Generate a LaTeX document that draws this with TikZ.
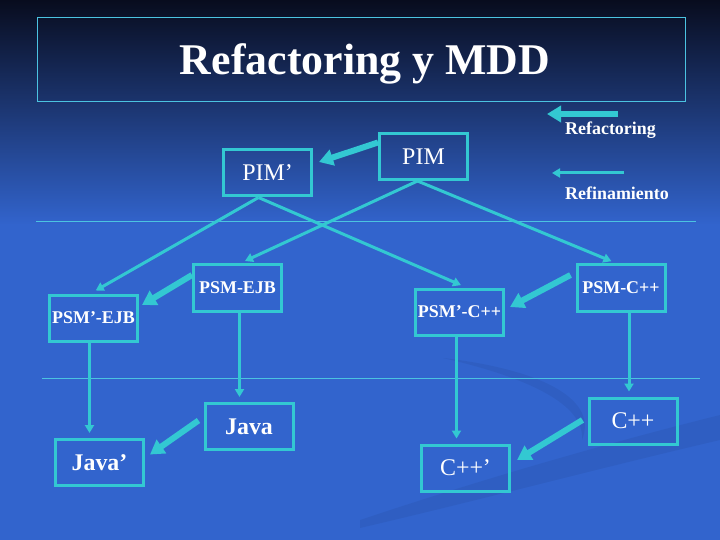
\documentclass[tikz,border=0pt]{standalone}
\usepackage{fontspec}
\setmainfont{Liberation Serif}
\usepackage{tikz}
\usetikzlibrary{arrows.meta, positioning, calc}
\definecolor{mycyan}{RGB}{51,200,210}
\definecolor{myframe}{RGB}{75,195,225}
\definecolor{bgtop}{RGB}{8,12,30}
\definecolor{bgmid}{RGB}{36,70,150}
\definecolor{bgblue}{RGB}{50,100,205}
\tikzset{
  stagebox/.style={rectangle, draw=mycyan, line width=3bp, inner sep=0pt,
    minimum width=88bp, minimum height=46bp, text=white},
  bigbox/.style={stagebox, font=\fontsize{24}{28}\selectfont},
  boldbox/.style={stagebox, font=\fontsize{24}{28}\selectfont\bfseries},
  psmbox/.style={stagebox, font=\fontsize{18}{22}\selectfont\bfseries},
  legend/.style={text=white, font=\fontsize{18}{22}\selectfont\bfseries, inner sep=0pt},
  refine/.style={-{Triangle[length=8bp,width=9bp]}, line width=3bp, color=mycyan},
  refac/.style={-{Triangle[length=14bp,width=16bp]}, line width=6bp, color=mycyan},
  sepline/.style={line width=1bp, color=myframe},
  titleframe/.style={line width=1bp, draw=myframe}
}

\begin{document}
\begin{tikzpicture}[x=1bp, y=-1bp]
  \useasboundingbox (0,0) rectangle (720,540);
  % background
  \shade[top color=bgtop, middle color=bgmid, bottom color=bgblue] (0,0) rectangle (720,225);
  \fill[bgblue] (0,224) rectangle (720,540);
  \fill[black, opacity=0.05] (360,520) .. controls (480,480) and (600,445) .. (720,415)
    -- (720,440) .. controls (600,468) and (480,500) .. (360,528) -- cycle;
  \fill[black, opacity=0.05] (443,358) .. controls (530,368) and (600,395) .. (582,440)
    .. controls (585,405) and (530,378) .. (443,358) -- cycle;

  \draw[sepline] (36,222) -- (696,222);
  \draw[sepline] (42,378) -- (700,378);

  \draw[titleframe] (37,18) rectangle (685,102);
  \node[anchor=base, text=white, font=\fontsize{44}{50}\selectfont\bfseries] (title) at (365,75) {Refactoring y MDD};

  % legend
  \coordinate (refa) at (618,114);
  \coordinate (refb) at (547,114);
  \coordinate (rfna) at (624,173);
  \coordinate (rfnb) at (552,173);
  \draw[refac] (refa) -- (refb);
  \draw[refine] (rfna) -- (rfnb);
  \node[legend, anchor=base] (reflbl) at (610.5,135) {Refactoring};
  \node[legend, anchor=base] (rfnlbl) at (617,200) {Refinamiento};

  % models
  \node[bigbox] (pim) at (423.5,156.5) {PIM};
  \node[bigbox] (pimp) at (267.5,173) {PIM’};
  \node[psmbox] (psmejb) at (237.5,288) {PSM-EJB};
  \node[psmbox] (psmpejb) at (93.5,318) {PSM’-EJB};
  \node[psmbox] (psmcpp) at (621,288) {PSM-C++};
  \node[psmbox] (psmpcpp) at (459.5,312) {PSM’-C++};
  \node[boldbox] (java) at (249,426.5) {Java};
  \node[boldbox] (javap) at (99.5,462.5) {Java’};
  \node[bigbox] (cpp) at (633,421) {C++};
  \node[bigbox] (cppp) at (465.5,468) {C++’};

  % refinamiento
  \draw[refine, shorten >=6bp] ([xshift=-9bp]pimp.south) -- ([xshift=-3bp]psmpejb.north);
  \draw[refine, shorten >=6bp] ([xshift=-9bp]pimp.south) -- ([xshift=7bp]psmpcpp.north);
  \draw[refine, shorten >=6bp] ([xshift=-6bp]pim.south) -- ([xshift=2bp]psmejb.north);
  \draw[refine, shorten >=6bp] ([xshift=-6bp]pim.south) -- ([xshift=-4bp]psmcpp.north);
  \draw[refine, shorten >=5bp] ([xshift=-4bp]psmpejb.south) -- ([xshift=-4bp]psmpejb.south |- javap.north);
  \draw[refine, shorten >=5bp] ([xshift=2bp]psmejb.south) -- ([xshift=2bp]psmejb.south |- java.north);
  \draw[refine, shorten >=5bp] ([xshift=-3bp]psmpcpp.south) -- ([xshift=-3bp]psmpcpp.south |- cppp.north);
  \draw[refine, shorten >=5bp] ([xshift=8bp]psmcpp.south) -- ([xshift=8bp]psmcpp.south |- cpp.north);

  % refactoring
  \draw[refac] ([yshift=14bp]pim.west) -- ([xshift=6bp,yshift=11bp]pimp.east);
  \draw[refac] ([yshift=13bp]psmejb.west) -- ([xshift=3bp,yshift=13bp]psmpejb.east);
  \draw[refac] ([xshift=-5bp,yshift=13bp]psmcpp.west) -- ([xshift=5bp,yshift=5bp]psmpcpp.east);
  \draw[refac] ([xshift=-5bp,yshift=6bp]java.west) -- ([xshift=5bp,yshift=8bp]javap.east);
  \draw[refac] ([xshift=-5bp,yshift=1bp]cpp.west) -- ([xshift=6bp,yshift=8bp]cppp.east);
\end{tikzpicture}
\end{document}
